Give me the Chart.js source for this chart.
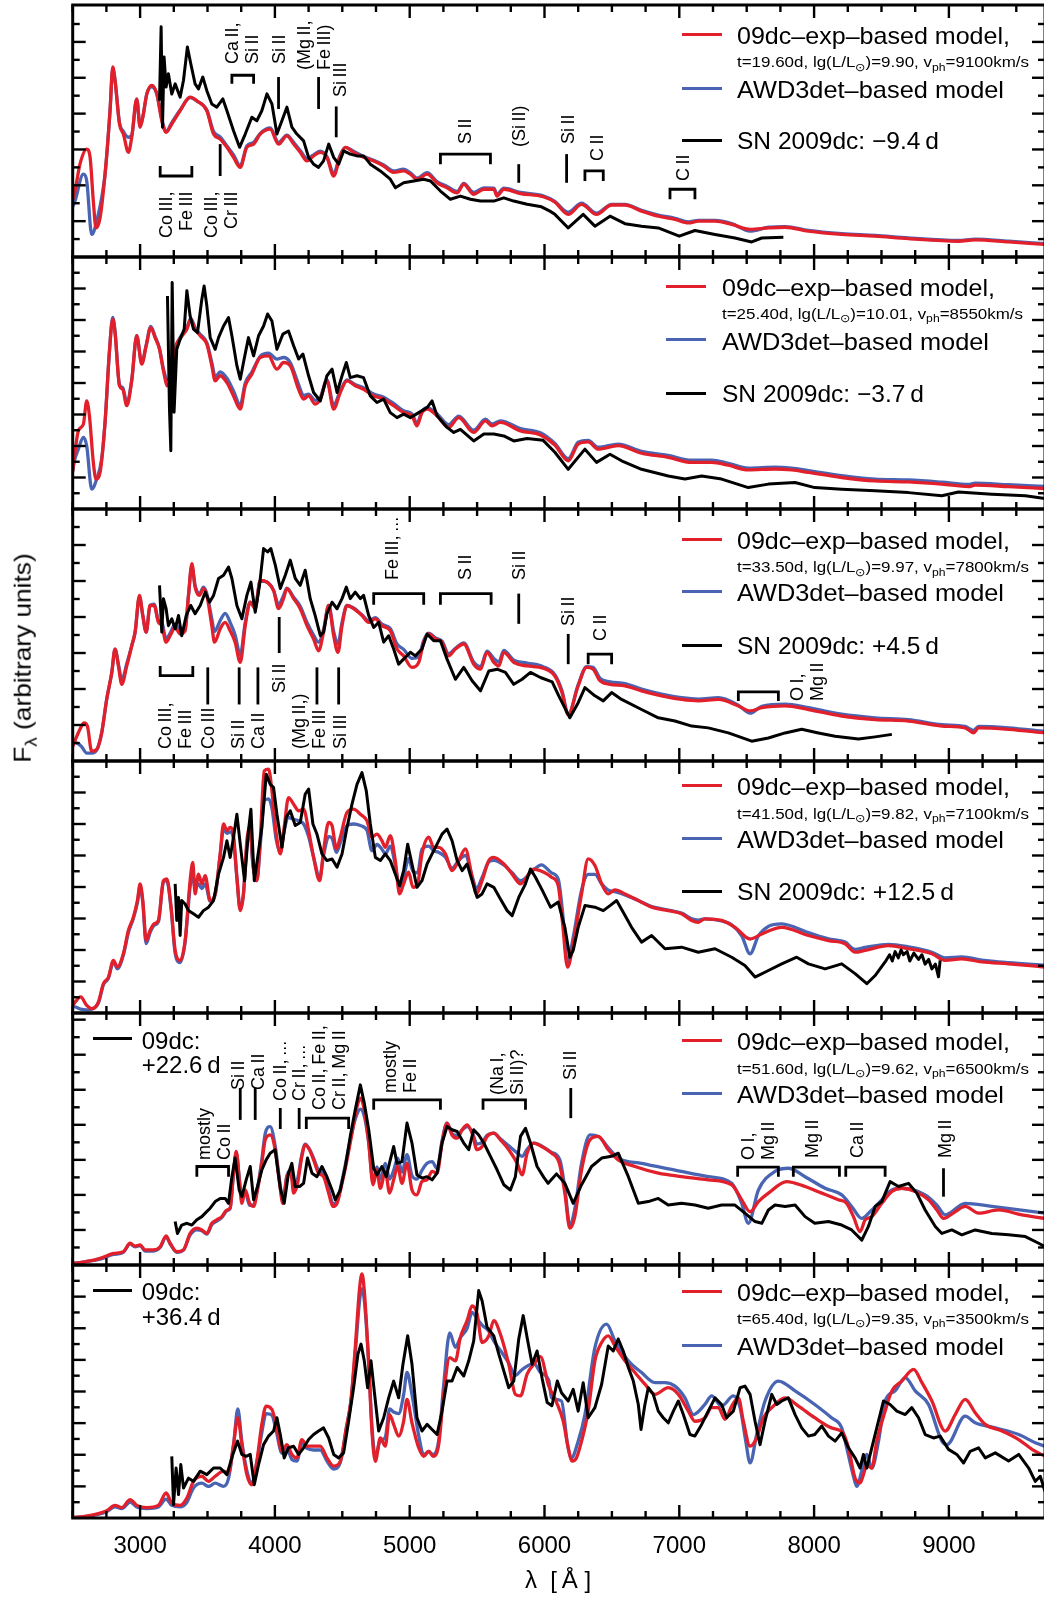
<!DOCTYPE html>
<html>
<head>
<meta charset="utf-8">
<script src="https://cdn.jsdelivr.net/npm/chart.js@4.4.1/dist/chart.umd.min.js"></script>
<style>
html,body{margin:0;padding:0;background:#fff;}
body{width:1044px;height:1597px;position:relative;overflow:hidden;font-family:"Liberation Sans",Arial,Helvetica,sans-serif;color:#000;}
canvas{position:absolute;left:0;}
.t{position:absolute;white-space:nowrap;line-height:1;transform-origin:0 0;}
.sw{position:absolute;height:3px;}
.ann{position:absolute;white-space:nowrap;font-size:18px;line-height:20px;transform-origin:0 0;}
sub{font-size:0.72em;vertical-align:baseline;position:relative;top:0.32em;line-height:0;}
</style>
</head>
<body>
<script>
// ---------------- DATA ----------------
const lambdaMin = 2500, lambdaMax = 9713;
const lambdaTickValues = [3000, 4000, 5000, 6000, 7000, 8000, 9000];
const epochs = ['\u22129.4\u2009d', '\u22123.7\u2009d', '+4.5\u2009d', '+12.5\u2009d', '+22.6\u2009d', '+36.4\u2009d'];
const modelTimes = ['19.60', '25.40', '33.50', '41.50', '51.60', '65.40'];
const modelLgL = ['9.90', '10.01', '9.97', '9.82', '9.62', '9.35'];
const modelVph = ['9100', '8550', '7800', '7100', '6500', '3500'];
const panelYMax = [7.03, 8, 7, 8, 7.19, 8];

const p1Red = [[2500,1.6],[2517,1.84],[2554,2.59],[2604,3.01],[2629,2.78],[2653,1.56],[2673,0.81],[2703,1.09],[2740,2.31],[2777,4.08],[2797,5.30],[2814,4.93],[2847,3.71],[2876,3.43],[2913,2.92],[2938,3.34],[2975,4.41],[3000,3.62],[3020,3.90],[3050,4.55],[3087,4.79],[3124,4.55],[3161,3.80],[3193,3.48],[3235,3.71],[3297,4.08],[3371,4.46],[3421,4.36],[3495,4.08],[3545,3.43],[3594,3.29],[3644,3.06],[3693,2.78],[3743,2.50],[3792,3.06],[3842,3.15],[3891,3.43],[3965,3.57],[4027,3.15],[4089,3.38],[4139,3.15],[4188,2.92],[4238,2.68],[4287,2.82],[4337,2.92],[4386,2.78],[4436,2.26],[4485,2.82],[4523,3.06],[4584,2.92],[4658,2.78],[4733,2.68],[4807,2.54],[4881,2.36],[4955,2.40],[5005,2.31],[5054,2.17],[5129,2.31],[5203,2.07],[5277,1.93],[5352,1.79],[5401,2.03],[5475,1.75],[5550,1.89],[5624,1.89],[5648,1.70],[5698,1.89],[5822,1.77],[5990,1.68],[6077,1.53],[6176,1.19],[6275,1.47],[6386,1.19],[6498,1.45],[6597,1.45],[6720,1.28],[6844,1.14],[6968,1.05],[7067,0.95],[7141,1.00],[7265,1.00],[7389,0.91],[7525,0.77],[7661,0.81],[7785,0.83],[7958,0.72],[8205,0.63],[8453,0.58],[8700,0.51],[9071,0.44],[9195,0.48],[9443,0.42],[9713,0.35]];
const p1Blue = [[2500,1.4],[2517,1.56],[2579,2.31],[2604,2.12],[2641,0.63],[2678,1.0],[2740,2.31],[2777,4.08],[2797,5.25],[2814,4.93],[2847,3.75],[2876,3.5],[2913,3.34],[2938,3.4],[2975,4.4],[3000,3.65],[3020,3.9],[3050,4.55],[3087,4.75],[3124,4.55],[3161,3.85],[3193,3.5],[3235,3.75],[3297,4.1],[3371,4.45],[3421,4.35],[3495,4.1],[3545,3.5],[3594,3.35],[3644,3.1],[3693,2.85],[3743,2.55],[3792,3.1],[3842,3.2],[3891,3.45],[3965,3.6],[4027,3.2],[4089,3.4],[4139,3.2],[4188,2.97],[4238,2.75],[4287,2.85],[4337,2.95],[4386,2.8],[4436,2.35],[4485,2.85],[4523,3.06],[4584,2.95],[4658,2.8],[4733,2.7],[4807,2.57],[4881,2.4],[4955,2.45],[5005,2.35],[5054,2.2],[5129,2.35],[5203,2.1],[5277,1.97],[5352,1.83],[5401,2.05],[5475,1.8],[5550,1.93],[5624,1.92],[5648,1.75],[5698,1.92],[5822,1.8],[5990,1.71],[6077,1.55],[6176,1.25],[6275,1.5],[6386,1.22],[6498,1.47],[6597,1.47],[6720,1.3],[6844,1.17],[6968,1.08],[7067,0.98],[7141,1.02],[7265,1.02],[7389,0.93],[7525,0.72],[7661,0.83],[7785,0.85],[7958,0.74],[8205,0.65],[8453,0.6],[8700,0.53],[9071,0.46],[9195,0.5],[9443,0.44],[9713,0.37]];
const p1Black = [[3144,4.36],[3156,6.42],[3166,3.62],[3178,5.58],[3193,4.74],[3210,5.11],[3235,4.55],[3260,4.83],[3297,4.46],[3322,4.93],[3351,5.86],[3376,5.39],[3408,4.83],[3433,4.69],[3465,5.02],[3495,4.64],[3532,4.27],[3569,4.18],[3614,4.41],[3644,4.08],[3693,3.52],[3738,3.06],[3780,3.43],[3829,3.90],[3866,3.80],[3903,4.08],[3941,4.55],[3978,4.27],[4015,3.43],[4052,3.80],[4089,4.18],[4126,3.62],[4163,3.43],[4213,3.24],[4250,2.78],[4287,2.59],[4324,2.50],[4361,2.68],[4399,3.15],[4436,2.78],[4473,2.59],[4510,2.96],[4559,2.87],[4609,2.82],[4658,2.82],[4708,2.59],[4782,2.40],[4856,2.17],[4894,1.93],[4955,2.07],[5030,2.12],[5104,2.17],[5154,2.12],[5228,1.84],[5302,1.61],[5376,1.70],[5450,1.61],[5525,1.56],[5624,1.56],[5698,1.65],[5772,1.56],[5871,1.47],[5978,1.40],[6040,1.28],[6077,1.19],[6176,0.81],[6287,1.19],[6374,0.86],[6486,1.14],[6597,0.93],[6720,0.86],[6844,0.81],[7000,0.58],[7116,0.74],[7265,0.63],[7413,0.53],[7537,0.42],[7612,0.53],[7772,0.55]];

const p2Red = [[2500,1.2],[2505,1.37],[2542,2.48],[2579,2.69],[2604,3.43],[2624,2.96],[2653,1.48],[2673,0.95],[2703,1.16],[2740,2.75],[2772,4.97],[2797,6.03],[2814,5.60],[2847,3.91],[2871,3.80],[2901,3.28],[2938,4.07],[2975,5.50],[3012,4.60],[3045,5.18],[3079,5.76],[3111,5.44],[3144,5.07],[3173,4.39],[3203,3.91],[3235,4.23],[3260,5.07],[3302,5.44],[3347,5.71],[3376,6.03],[3408,5.71],[3446,5.50],[3495,5.23],[3532,4.55],[3557,4.07],[3594,4.23],[3644,4.01],[3693,3.59],[3743,3.17],[3780,3.91],[3829,4.28],[3891,4.81],[3953,4.86],[4015,4.44],[4064,4.65],[4114,4.55],[4176,3.80],[4213,3.49],[4250,3.59],[4299,3.33],[4337,3.49],[4386,4.07],[4436,3.17],[4485,3.70],[4535,4.07],[4596,3.91],[4658,3.80],[4733,3.59],[4807,3.49],[4881,3.28],[4955,3.06],[5017,2.96],[5054,2.64],[5091,3.06],[5129,3.17],[5203,2.96],[5289,2.59],[5364,2.90],[5475,2.43],[5562,2.80],[5611,2.64],[5673,2.75],[5822,2.48],[5970,2.35],[6077,2.03],[6176,1.53],[6250,2.06],[6324,2.13],[6399,1.90],[6547,2.01],[6720,1.77],[6918,1.64],[7092,1.48],[7240,1.48],[7364,1.39],[7512,1.24],[7710,1.27],[7834,1.24],[7958,1.16],[8205,1.00],[8453,0.89],[8700,0.86],[8948,0.79],[9146,0.71],[9195,0.76],[9443,0.71],[9713,0.65]];
const p2Blue = [[2500,1.2],[2510,1.48],[2542,1.90],[2579,2.27],[2604,2.0],[2641,0.63],[2678,0.95],[2715,1.6],[2740,2.75],[2772,4.97],[2797,6.08],[2814,5.65],[2847,3.95],[2871,3.85],[2901,3.40],[2938,4.10],[2975,5.50],[3012,4.65],[3045,5.20],[3079,5.80],[3111,5.48],[3144,5.10],[3173,4.45],[3203,4.10],[3235,4.30],[3260,5.07],[3302,5.48],[3347,5.75],[3376,6.05],[3408,5.75],[3446,5.55],[3495,5.28],[3532,4.65],[3557,4.20],[3594,4.35],[3644,4.15],[3693,3.75],[3743,3.30],[3780,4.0],[3829,4.35],[3891,4.85],[3953,4.95],[4015,4.76],[4064,4.81],[4114,4.65],[4176,3.95],[4213,3.60],[4250,3.65],[4299,3.45],[4337,3.55],[4386,4.10],[4436,3.30],[4485,3.75],[4535,4.10],[4596,3.95],[4658,3.85],[4733,3.65],[4807,3.55],[4881,3.35],[4955,3.12],[5017,3.02],[5054,2.72],[5091,3.10],[5129,3.22],[5203,3.02],[5289,2.68],[5364,2.95],[5475,2.50],[5562,2.85],[5611,2.70],[5673,2.80],[5822,2.55],[5970,2.42],[6077,2.08],[6176,1.60],[6250,2.12],[6324,2.18],[6399,1.96],[6547,2.06],[6720,1.83],[6918,1.70],[7092,1.55],[7240,1.55],[7364,1.45],[7512,1.30],[7710,1.33],[7834,1.30],[7958,1.22],[8205,1.06],[8453,0.95],[8700,0.92],[8948,0.85],[9146,0.78],[9195,0.82],[9443,0.77],[9713,0.72]];
const p2Black = [[3203,6.76],[3218,3.17],[3228,1.85],[3238,7.19],[3252,3.07],[3272,5.07],[3297,5.39],[3327,5.71],[3347,6.93],[3371,6.13],[3396,5.71],[3426,5.60],[3458,6.66],[3475,7.08],[3495,6.45],[3520,5.44],[3557,5.07],[3582,5.44],[3619,5.81],[3656,6.08],[3681,5.50],[3718,4.55],[3743,4.12],[3772,4.76],[3804,5.44],[3842,4.86],[3879,5.50],[3916,5.81],[3946,6.19],[3978,5.97],[4015,5.07],[4059,5.55],[4101,5.65],[4139,5.18],[4176,4.76],[4208,4.92],[4250,4.23],[4287,3.70],[4337,3.43],[4386,4.23],[4424,4.44],[4461,3.70],[4498,4.23],[4530,4.65],[4559,4.17],[4609,4.23],[4658,4.17],[4708,3.59],[4757,3.38],[4807,3.49],[4856,3.06],[4906,2.90],[4955,3.01],[5005,2.90],[5067,3.06],[5129,3.22],[5166,3.43],[5203,2.96],[5277,2.59],[5327,2.43],[5376,2.53],[5475,2.16],[5550,2.38],[5624,2.38],[5698,2.32],[5772,2.16],[5871,2.24],[5990,2.18],[6077,1.80],[6176,1.26],[6300,1.90],[6386,1.48],[6486,1.74],[6572,1.53],[6720,1.26],[6918,1.05],[7042,0.95],[7166,1.05],[7314,0.95],[7512,0.68],[7661,0.79],[7859,0.84],[8005,0.68],[8205,0.63],[8453,0.58],[8700,0.52],[8948,0.42],[9071,0.54],[9319,0.47],[9567,0.42],[9713,0.33]];

const p3Red = [[2500,0.4],[2510,0.50],[2554,0.88],[2584,1.06],[2609,0.97],[2641,0.27],[2678,0.32],[2715,0.78],[2752,1.71],[2790,2.46],[2814,3.11],[2839,2.64],[2864,2.13],[2901,2.64],[2938,3.20],[2963,3.58],[2995,4.60],[3020,4.04],[3045,3.58],[3074,4.32],[3104,4.32],[3136,3.85],[3161,3.76],[3193,3.30],[3223,3.48],[3260,3.71],[3297,3.53],[3334,3.62],[3359,4.60],[3384,5.48],[3408,4.83],[3441,4.60],[3470,4.79],[3495,4.60],[3532,3.76],[3552,3.30],[3594,3.67],[3631,3.85],[3668,3.62],[3705,3.30],[3743,2.74],[3780,3.76],[3817,4.41],[3854,4.23],[3891,5.02],[3941,4.97],[3990,4.74],[4027,4.23],[4064,4.51],[4089,4.79],[4139,4.51],[4188,4.23],[4238,3.76],[4287,3.39],[4324,3.06],[4361,3.58],[4399,4.32],[4436,3.48],[4468,3.02],[4498,3.76],[4535,4.32],[4584,4.23],[4646,4.04],[4696,3.85],[4745,3.95],[4794,3.76],[4856,3.62],[4906,3.11],[4955,2.92],[5017,2.60],[5067,2.74],[5104,3.30],[5141,3.53],[5191,3.39],[5240,3.30],[5289,2.92],[5339,3.11],[5401,3.25],[5475,2.69],[5525,2.55],[5574,3.02],[5624,2.74],[5661,2.64],[5698,3.02],[5772,2.74],[5871,2.64],[5990,2.58],[6077,2.36],[6130,1.90],[6176,1.29],[6250,2.09],[6312,2.60],[6361,2.55],[6411,2.23],[6486,2.13],[6597,2.09],[6720,1.95],[6869,1.81],[7017,1.71],[7141,1.67],[7290,1.71],[7438,1.53],[7525,1.39],[7612,1.48],[7785,1.53],[7958,1.43],[8205,1.25],[8453,1.15],[8700,1.11],[8948,0.97],[9121,0.92],[9183,0.78],[9220,0.92],[9443,0.88],[9713,0.78]];
const p3Blue = [[2500,0.45],[2505,0.52],[2541,0.48],[2566,0.40],[2604,0.22],[2641,0.22],[2678,0.30],[2715,0.78],[2752,1.71],[2790,2.46],[2814,3.11],[2839,2.70],[2864,2.25],[2901,2.70],[2938,3.20],[2963,3.58],[2995,4.55],[3020,4.04],[3045,3.58],[3074,4.32],[3104,4.36],[3136,3.9],[3161,3.85],[3193,3.40],[3223,3.55],[3260,3.80],[3297,3.62],[3334,3.67],[3359,4.6],[3384,5.4],[3408,4.88],[3441,4.65],[3470,4.83],[3495,4.65],[3532,3.95],[3552,3.6],[3594,3.9],[3631,4.1],[3668,3.85],[3705,3.5],[3743,2.95],[3780,3.85],[3817,4.41],[3854,4.3],[3891,5.0],[3941,4.97],[3990,4.74],[4027,4.35],[4064,4.6],[4089,4.8],[4139,4.55],[4188,4.3],[4238,3.85],[4287,3.5],[4324,3.3],[4361,3.65],[4399,4.32],[4436,3.6],[4468,3.25],[4498,3.85],[4535,4.32],[4584,4.25],[4646,4.06],[4696,3.9],[4745,3.98],[4794,3.8],[4856,3.68],[4906,3.25],[4955,3.1],[5017,2.85],[5067,2.9],[5104,3.35],[5141,3.55],[5191,3.42],[5240,3.33],[5289,2.98],[5339,3.13],[5401,3.28],[5475,2.75],[5525,2.62],[5574,3.05],[5624,2.85],[5661,2.75],[5698,3.07],[5772,2.80],[5871,2.72],[5990,2.62],[6077,2.40],[6130,1.95],[6176,1.29],[6250,2.12],[6312,2.62],[6361,2.6],[6411,2.3],[6486,2.2],[6597,2.15],[6720,2.0],[6869,1.86],[7017,1.76],[7141,1.72],[7290,1.76],[7438,1.55],[7525,1.33],[7612,1.52],[7785,1.58],[7958,1.48],[8205,1.30],[8453,1.20],[8700,1.15],[8948,1.01],[9121,0.96],[9183,0.85],[9220,0.96],[9443,0.92],[9713,0.82]];
const p3Black = [[3144,4.88],[3161,3.58],[3173,4.51],[3193,4.23],[3210,3.76],[3235,3.95],[3260,3.67],[3285,4.04],[3309,3.48],[3342,4.04],[3376,4.32],[3408,4.09],[3446,4.32],[3483,4.69],[3515,4.41],[3545,4.60],[3582,5.07],[3619,5.16],[3656,5.39],[3681,5.07],[3718,4.32],[3755,3.95],[3792,4.60],[3822,4.97],[3854,4.13],[3886,4.88],[3916,5.90],[3946,5.81],[3970,5.90],[4003,5.44],[4040,4.79],[4077,5.16],[4114,5.58],[4151,5.07],[4188,4.88],[4225,5.30],[4262,4.51],[4299,4.04],[4337,3.48],[4361,3.58],[4386,4.09],[4424,4.41],[4461,4.23],[4498,4.51],[4530,4.83],[4559,4.51],[4596,4.69],[4634,4.51],[4658,4.60],[4696,4.04],[4733,3.71],[4770,3.85],[4807,3.30],[4844,3.48],[4881,3.11],[4918,2.69],[4955,2.83],[5005,3.02],[5042,2.92],[5091,3.11],[5129,3.53],[5178,3.34],[5228,3.34],[5277,2.83],[5339,2.27],[5401,2.60],[5463,2.23],[5525,1.95],[5587,2.50],[5649,2.55],[5710,2.46],[5772,2.13],[5834,2.27],[5896,2.46],[5970,2.32],[6057,2.20],[6106,1.81],[6188,1.20],[6250,1.62],[6300,2.04],[6374,1.81],[6436,1.67],[6498,1.90],[6572,1.71],[6720,1.43],[6844,1.20],[6968,1.11],[7092,0.97],[7215,0.92],[7364,0.78],[7537,0.55],[7661,0.64],[7785,0.78],[7908,0.88],[8032,0.78],[8156,0.69],[8329,0.61],[8453,0.67],[8577,0.74]];

const p4Red = [[2500,0.25],[2510,0.30],[2559,0.51],[2604,0.24],[2641,0.14],[2691,0.35],[2728,0.93],[2765,1.14],[2802,1.67],[2832,1.46],[2876,1.88],[2913,2.62],[2950,3.04],[2980,3.57],[3000,4.10],[3020,3.57],[3045,2.30],[3074,2.62],[3104,2.83],[3136,2.94],[3173,4.20],[3198,4.26],[3230,3.36],[3260,1.99],[3297,1.67],[3334,2.30],[3371,4.20],[3391,4.78],[3408,3.78],[3433,4.41],[3458,4.10],[3483,4.36],[3520,3.57],[3557,3.78],[3594,5.05],[3619,6.00],[3644,5.79],[3668,5.89],[3693,5.63],[3718,4.31],[3743,3.25],[3767,3.78],[3792,5.47],[3817,5.95],[3837,4.73],[3866,4.20],[3891,5.47],[3921,7.69],[3953,7.74],[3978,7.05],[4010,5.68],[4040,5.05],[4069,5.89],[4101,6.84],[4139,6.63],[4176,6.42],[4213,6.47],[4250,5.79],[4287,4.94],[4332,4.20],[4361,5.15],[4399,6.05],[4424,5.95],[4456,5.21],[4485,5.58],[4535,6.37],[4584,6.47],[4634,6.31],[4683,6.10],[4720,5.58],[4757,5.68],[4794,5.47],[4819,5.26],[4856,5.63],[4893,4.84],[4925,3.78],[4955,4.10],[4992,4.47],[5024,3.99],[5059,4.10],[5091,5.05],[5141,5.58],[5178,5.26],[5215,5.26],[5265,5.05],[5314,4.52],[5364,4.84],[5413,5.21],[5463,4.31],[5495,3.78],[5537,4.20],[5587,4.84],[5624,4.94],[5698,4.73],[5760,4.41],[5822,4.10],[5921,4.57],[5978,4.50],[6020,4.41],[6052,4.31],[6102,4.04],[6132,2.94],[6171,1.46],[6213,2.20],[6275,3.78],[6324,4.89],[6374,4.68],[6424,4.10],[6473,3.78],[6523,3.91],[6597,3.78],[6696,3.57],[6795,3.36],[6918,3.25],[7017,3.15],[7092,2.94],[7141,2.88],[7190,2.99],[7314,2.94],[7413,2.72],[7525,2.35],[7612,2.51],[7760,2.72],[7958,2.46],[8107,2.30],[8230,2.20],[8304,1.93],[8379,1.99],[8552,2.14],[8700,2.04],[8874,1.88],[8973,1.67],[9096,1.72],[9245,1.62],[9443,1.56],[9713,1.46]];
const p4Blue = [[2500,0.2],[2510,0.2],[2559,0.12],[2604,0.10],[2641,0.12],[2691,0.32],[2728,0.9],[2765,1.1],[2802,1.62],[2832,1.40],[2876,1.85],[2913,2.55],[2950,3.0],[2980,3.5],[3000,4.0],[3020,3.5],[3045,2.2],[3074,2.55],[3104,2.78],[3136,2.9],[3173,4.15],[3198,4.2],[3230,3.3],[3260,1.9],[3297,1.6],[3334,2.25],[3371,4.0],[3391,4.4],[3408,3.95],[3433,4.1],[3458,3.95],[3483,4.1],[3520,3.55],[3557,3.75],[3594,5.0],[3619,5.85],[3644,5.7],[3668,5.75],[3693,5.5],[3718,4.3],[3743,3.3],[3767,3.8],[3792,5.3],[3817,5.7],[3837,4.7],[3866,4.2],[3891,5.3],[3921,6.74],[3953,6.8],[3978,6.5],[4010,5.5],[4040,5.1],[4069,5.8],[4101,6.2],[4139,6.15],[4176,6.1],[4213,6.0],[4250,5.6],[4287,4.95],[4332,4.3],[4361,5.0],[4399,5.6],[4424,5.55],[4456,5.1],[4485,5.4],[4535,5.95],[4584,6.0],[4634,5.95],[4683,5.8],[4720,5.15],[4757,5.35],[4794,5.2],[4819,5.05],[4856,5.3],[4893,4.7],[4925,4.0],[4955,4.3],[4992,4.9],[5024,4.5],[5059,4.45],[5091,5.2],[5141,5.3],[5178,5.15],[5215,5.1],[5265,4.95],[5314,4.6],[5364,4.85],[5413,5.0],[5463,4.35],[5495,3.95],[5537,4.3],[5587,4.8],[5624,4.85],[5698,4.7],[5760,4.45],[5822,4.2],[5921,4.55],[5978,4.70],[6052,4.45],[6102,4.25],[6132,3.3],[6171,1.6],[6213,2.4],[6275,3.9],[6324,4.4],[6374,4.4],[6424,4.1],[6473,3.9],[6523,3.85],[6597,3.75],[6696,3.57],[6795,3.38],[6918,3.27],[7017,3.17],[7092,2.99],[7141,2.95],[7190,2.99],[7314,2.92],[7389,2.80],[7463,2.45],[7525,1.88],[7587,2.45],[7661,2.75],[7760,2.83],[7858,2.72],[7958,2.55],[8107,2.35],[8230,2.25],[8304,2.02],[8379,2.08],[8552,2.18],[8700,2.1],[8874,1.93],[8973,1.75],[9096,1.78],[9245,1.68],[9443,1.60],[9713,1.52]];
const p4Black = [[3260,4.10],[3272,2.94],[3285,3.67],[3297,2.46],[3309,3.57],[3334,3.46],[3359,3.25],[3396,3.15],[3433,3.04],[3470,3.25],[3508,3.36],[3545,3.57],[3582,4.41],[3619,4.94],[3644,5.47],[3668,4.94],[3693,5.58],[3718,6.31],[3743,5.36],[3775,4.20],[3804,5.79],[3822,6.47],[3847,4.20],[3879,5.15],[3903,5.89],[3936,7.58],[3965,7.26],[3990,7.16],[4015,6.31],[4052,5.26],[4084,6.21],[4114,6.42],[4151,5.95],[4188,6.05],[4225,6.95],[4250,7.11],[4282,6.00],[4312,5.68],[4349,5.05],[4386,4.84],[4424,4.89],[4461,4.63],[4498,5.05],[4535,5.89],[4572,6.63],[4609,7.26],[4646,7.63],[4678,7.05],[4708,6.00],[4745,4.94],[4782,4.84],[4819,5.05],[4856,4.84],[4893,4.41],[4925,4.04],[4955,4.52],[4985,5.36],[5017,4.73],[5054,3.99],[5091,4.20],[5129,4.73],[5166,5.05],[5203,5.36],[5240,5.68],[5277,5.84],[5314,5.47],[5352,4.84],[5389,4.52],[5426,4.73],[5463,4.20],[5500,3.67],[5537,3.78],[5574,4.10],[5624,3.99],[5673,3.62],[5723,3.25],[5760,3.09],[5809,3.67],[5859,4.10],[5896,4.57],[5933,4.31],[5983,3.90],[6045,3.36],[6102,3.52],[6151,2.72],[6188,1.77],[6213,1.99],[6250,2.72],[6300,3.41],[6374,3.36],[6436,3.25],[6486,3.41],[6535,3.57],[6584,3.20],[6646,2.72],[6720,2.25],[6795,2.46],[6894,2.04],[7017,2.09],[7141,1.93],[7265,2.04],[7389,1.77],[7487,1.51],[7562,1.14],[7661,1.35],[7760,1.56],[7871,1.77],[7958,1.56],[8082,1.40],[8205,1.56],[8304,1.25],[8391,0.93],[8453,1.19],[8527,1.62],[8560,1.85],[8580,1.65],[8601,1.95],[8625,1.75],[8645,2.0],[8663,1.85],[8690,1.95],[8710,1.65],[8740,1.9],[8775,1.7],[8800,1.85],[8824,1.55],[8850,1.7],[8874,1.4],[8900,1.55],[8923,1.15],[8935,1.67]];

const p5Red = [[2500,0.05],[2510,0.05],[2604,0.10],[2703,0.19],[2802,0.33],[2876,0.38],[2926,0.62],[2963,0.54],[3000,0.57],[3037,0.43],[3099,0.43],[3149,0.52],[3193,0.83],[3223,0.62],[3272,0.38],[3322,0.43],[3371,0.90],[3421,1.05],[3458,1.00],[3495,0.90],[3532,1.19],[3569,1.29],[3606,1.38],[3644,1.57],[3668,1.62],[3693,2.62],[3713,3.24],[3738,2.33],[3755,1.76],[3780,2.14],[3812,1.76],[3842,1.67],[3871,2.14],[3903,2.90],[3928,3.57],[3965,3.71],[4002,3.29],[4035,2.33],[4059,1.76],[4089,2.52],[4119,2.62],[4139,2.05],[4168,2.33],[4200,3.10],[4225,3.43],[4257,3.29],[4287,3.00],[4324,2.62],[4361,2.52],[4399,2.05],[4431,1.67],[4461,1.76],[4498,2.33],[4535,3.00],[4572,3.76],[4604,4.43],[4634,4.76],[4663,4.43],[4696,3.48],[4728,2.29],[4757,2.71],[4782,2.19],[4819,2.67],[4851,2.05],[4881,2.43],[4911,2.81],[4943,2.33],[4980,2.90],[5017,2.14],[5054,2.00],[5091,2.38],[5129,2.43],[5166,2.67],[5203,2.62],[5240,3.48],[5277,4.05],[5314,3.71],[5352,3.62],[5389,3.86],[5426,4.00],[5463,3.76],[5500,3.29],[5537,3.38],[5574,3.67],[5624,3.76],[5673,3.57],[5735,3.29],[5797,2.90],[5834,2.57],[5871,3.19],[5921,3.48],[5970,3.40],[6050,3.20],[6110,2.90],[6151,2.05],[6188,1.05],[6225,1.38],[6275,2.71],[6337,3.57],[6399,3.67],[6473,3.29],[6547,3.00],[6671,2.81],[6844,2.62],[7017,2.52],[7215,2.43],[7389,2.29],[7463,1.86],[7525,1.52],[7587,1.81],[7661,2.05],[7797,2.38],[7933,2.24],[8057,2.05],[8180,1.86],[8242,1.76],[8292,1.38],[8341,0.95],[8379,1.29],[8428,1.38],[8502,1.76],[8577,2.10],[8651,2.19],[8750,2.10],[8849,1.86],[8911,1.57],[8960,1.33],[9047,1.52],[9121,1.67],[9220,1.48],[9369,1.57],[9542,1.43],[9713,1.33]];
const p5Blue = [[2500,0.05],[2510,0.05],[2604,0.10],[2703,0.17],[2802,0.30],[2876,0.36],[2926,0.60],[2963,0.52],[3000,0.55],[3037,0.40],[3099,0.40],[3149,0.50],[3193,0.80],[3223,0.60],[3272,0.36],[3322,0.43],[3371,0.85],[3421,1.0],[3458,0.98],[3495,0.88],[3532,1.15],[3569,1.25],[3606,1.35],[3644,1.55],[3668,1.62],[3693,2.62],[3713,3.20],[3738,2.40],[3755,1.85],[3780,2.10],[3812,1.70],[3842,1.72],[3871,2.20],[3903,3.0],[3928,3.75],[3965,3.95],[4002,3.40],[4035,2.40],[4059,1.85],[4089,2.55],[4119,2.70],[4139,2.20],[4168,2.45],[4200,3.15],[4225,3.45],[4257,3.30],[4287,3.05],[4324,2.70],[4361,2.60],[4399,2.15],[4431,1.75],[4461,1.82],[4498,2.40],[4535,3.10],[4572,3.80],[4604,4.25],[4634,4.45],[4663,4.25],[4696,3.50],[4728,2.40],[4757,2.80],[4782,2.45],[4819,2.90],[4851,2.45],[4881,2.70],[4911,3.05],[4943,2.65],[4980,3.15],[5017,2.55],[5054,2.45],[5091,2.70],[5129,2.90],[5166,2.95],[5203,2.75],[5240,3.55],[5277,4.05],[5314,3.75],[5352,3.70],[5389,3.85],[5426,3.95],[5463,3.80],[5500,3.45],[5537,3.50],[5574,3.70],[5624,3.76],[5673,3.60],[5735,3.40],[5797,3.20],[5834,3.10],[5871,3.30],[5921,3.48],[5970,3.42],[6050,3.22],[6114,3.0],[6151,2.2],[6188,1.14],[6225,1.6],[6275,2.90],[6337,3.71],[6399,3.67],[6473,3.35],[6547,3.05],[6720,2.90],[6968,2.71],[7215,2.52],[7389,2.33],[7463,1.76],[7512,1.19],[7587,2.14],[7710,2.67],[7809,2.76],[7933,2.52],[8082,2.19],[8205,2.00],[8279,1.67],[8354,1.33],[8415,1.52],[8502,1.86],[8577,2.14],[8651,2.19],[8824,2.00],[8911,1.71],[8973,1.43],[9121,1.76],[9319,1.67],[9713,1.48]];
const p5Black = [[3260,1.24],[3277,0.90],[3309,1.14],[3347,1.19],[3384,1.14],[3421,1.29],[3458,1.38],[3483,1.48],[3520,1.62],[3557,1.81],[3594,1.90],[3631,1.90],[3656,1.76],[3681,2.52],[3705,3.05],[3735,2.14],[3755,1.95],[3787,2.43],[3817,2.81],[3842,1.86],[3871,2.24],[3903,2.71],[3935,3.00],[3965,3.19],[4002,3.29],[4040,2.19],[4069,1.76],[4101,2.62],[4126,2.90],[4151,2.24],[4183,2.24],[4213,2.33],[4242,3.05],[4275,2.62],[4312,2.52],[4349,2.81],[4386,2.52],[4424,2.14],[4448,1.86],[4485,2.14],[4523,2.81],[4559,3.67],[4596,4.43],[4634,5.14],[4663,4.62],[4696,3.86],[4733,2.76],[4757,2.57],[4794,2.81],[4826,2.52],[4856,3.00],[4881,3.38],[4906,2.90],[4943,2.95],[4980,4.05],[5017,3.48],[5054,2.57],[5091,2.48],[5129,2.52],[5166,2.43],[5203,2.62],[5240,3.48],[5277,3.95],[5314,3.86],[5352,3.81],[5401,3.48],[5438,3.29],[5475,3.86],[5512,3.71],[5550,3.48],[5599,3.10],[5649,2.71],[5698,2.29],[5747,2.14],[5784,2.52],[5822,3.67],[5859,3.90],[5896,3.48],[5945,2.81],[5995,2.50],[6027,2.33],[6089,2.60],[6151,2.33],[6213,1.76],[6275,2.29],[6349,2.81],[6424,3.05],[6498,3.10],[6547,3.19],[6622,2.52],[6696,1.76],[6770,1.81],[6844,1.90],[6918,1.71],[7017,1.76],[7116,1.71],[7215,1.62],[7314,1.71],[7413,1.71],[7487,1.48],[7562,1.24],[7612,1.19],[7661,1.57],[7710,1.71],[7785,1.67],[7859,1.71],[7933,1.38],[8005,1.19],[8107,1.24],[8205,1.14],[8279,1.00],[8354,0.71],[8403,1.10],[8453,1.67],[8502,1.81],[8564,2.38],[8626,2.24],[8700,2.33],[8762,2.05],[8824,1.57],[8899,1.10],[8948,0.90],[9022,1.00],[9096,0.86],[9195,1.00],[9319,0.90],[9443,0.86],[9567,0.81],[9666,0.62],[9713,0.52]];

const p6Red = [[2500,0.02],[2510,0.02],[2653,0.10],[2752,0.23],[2814,0.40],[2864,0.33],[2926,0.58],[2975,0.40],[3050,0.33],[3136,0.40],[3193,0.79],[3235,0.47],[3297,0.40],[3347,0.63],[3396,1.16],[3458,1.32],[3508,1.16],[3557,1.32],[3619,1.48],[3656,1.42],[3693,2.32],[3725,3.17],[3755,2.32],[3792,1.37],[3829,1.05],[3866,1.79],[3903,2.96],[3935,3.54],[3978,3.43],[4010,2.96],[4052,2.11],[4089,2.32],[4126,2.01],[4163,1.90],[4200,2.48],[4238,2.27],[4287,2.27],[4337,2.27],[4386,1.90],[4436,1.64],[4485,1.79],[4530,2.85],[4564,3.70],[4596,5.39],[4629,7.30],[4646,7.72],[4663,7.20],[4696,4.86],[4720,2.75],[4745,1.79],[4782,2.53],[4819,2.27],[4851,3.27],[4881,2.96],[4918,2.59],[4955,3.06],[4980,3.75],[5017,3.01],[5067,2.22],[5104,1.95],[5141,2.11],[5173,1.95],[5215,2.32],[5252,3.91],[5297,5.07],[5339,4.97],[5376,5.71],[5426,6.24],[5463,6.71],[5500,6.45],[5537,5.55],[5587,5.76],[5624,6.24],[5673,5.81],[5735,4.86],[5784,3.91],[5822,3.86],[5871,4.55],[5921,4.86],[5970,5.10],[6030,4.20],[6090,3.65],[6139,3.06],[6176,2.22],[6205,1.80],[6237,1.90],[6275,2.43],[6324,3.38],[6374,4.97],[6424,5.55],[6473,5.76],[6523,5.44],[6597,4.97],[6671,4.60],[6745,4.23],[6820,3.91],[6918,4.12],[6993,3.91],[7067,3.38],[7116,3.06],[7190,3.17],[7240,3.49],[7290,3.49],[7339,3.12],[7389,3.54],[7438,3.80],[7475,3.06],[7525,2.27],[7574,2.53],[7624,3.17],[7686,3.49],[7785,3.80],[7884,3.54],[8005,3.17],[8129,2.85],[8215,2.69],[8255,2.22],[8304,1.26],[8341,1.11],[8366,1.37],[8391,1.69],[8428,1.58],[8465,2.43],[8527,3.38],[8577,4.02],[8651,4.33],[8738,4.70],[8800,4.28],[8874,3.70],[8973,2.75],[9047,3.27],[9121,3.75],[9195,3.33],[9270,2.96],[9394,2.75],[9518,2.48],[9617,2.17],[9713,1.95]];
const p6Blue = [[2500,0.02],[2510,0.02],[2653,0.08],[2752,0.2],[2814,0.35],[2864,0.30],[2926,0.50],[2975,0.35],[3050,0.30],[3136,0.35],[3193,0.60],[3235,0.40],[3297,0.35],[3347,0.50],[3396,0.95],[3458,1.10],[3508,1.0],[3557,1.10],[3619,1.0],[3656,1.25],[3693,2.3],[3725,3.45],[3755,2.4],[3792,1.5],[3829,1.1],[3866,1.75],[3903,2.7],[3935,3.3],[3978,3.25],[4010,2.75],[4052,2.05],[4089,2.2],[4126,1.85],[4163,1.80],[4200,2.35],[4238,2.2],[4287,2.15],[4337,2.15],[4386,1.80],[4436,1.55],[4485,1.75],[4530,2.85],[4564,3.70],[4596,5.2],[4629,6.9],[4646,7.25],[4663,6.9],[4696,4.9],[4720,2.9],[4745,1.95],[4782,2.45],[4819,2.55],[4851,3.45],[4881,3.35],[4918,3.3],[4955,3.9],[4980,4.6],[5017,3.9],[5067,2.6],[5104,2.0],[5141,2.1],[5173,2.0],[5215,2.45],[5252,4.2],[5297,5.85],[5339,5.4],[5376,5.7],[5426,6.0],[5463,6.5],[5500,6.3],[5537,6.1],[5587,5.9],[5624,5.6],[5673,5.3],[5735,4.9],[5784,4.5],[5822,4.65],[5871,4.8],[5921,4.9],[5970,4.6],[6032,4.35],[6052,3.80],[6126,3.70],[6171,2.32],[6200,1.90],[6250,2.43],[6300,3.27],[6374,5.39],[6461,6.13],[6523,5.60],[6622,4.97],[6720,4.60],[6820,4.28],[6894,4.28],[6968,4.17],[7042,3.80],[7104,3.27],[7190,3.59],[7240,3.86],[7314,3.54],[7401,3.86],[7451,3.49],[7493,2.43],[7525,1.74],[7574,2.64],[7636,3.70],[7735,4.33],[7859,4.02],[8005,3.59],[8129,3.17],[8205,2.85],[8242,2.22],[8292,1.32],[8316,1.00],[8359,1.58],[8391,2.01],[8428,1.58],[8478,2.43],[8527,3.70],[8601,4.02],[8676,4.44],[8750,4.02],[8849,3.59],[8948,2.43],[8985,2.32],[9121,3.22],[9195,3.01],[9344,2.85],[9518,2.64],[9641,2.38],[9713,2.27]];
const p6Black = [[3235,1.95],[3248,0.42],[3267,1.58],[3285,0.74],[3302,1.69],[3322,0.95],[3359,1.26],[3396,1.16],[3446,1.48],[3495,1.37],[3545,1.58],[3594,1.58],[3644,1.37],[3688,2.01],[3723,2.43],[3755,2.01],[3787,1.95],[3817,2.01],[3847,1.05],[3879,1.69],[3916,2.32],[3953,2.59],[3990,2.75],[4015,3.17],[4040,2.64],[4069,1.90],[4101,2.22],[4139,2.27],[4176,2.01],[4213,2.22],[4250,2.48],[4287,2.64],[4324,2.75],[4361,2.85],[4399,2.53],[4436,2.01],[4473,1.90],[4510,2.06],[4547,3.06],[4584,4.12],[4616,5.18],[4639,5.50],[4663,4.97],[4688,4.12],[4713,4.97],[4737,4.02],[4770,2.75],[4807,3.17],[4844,3.80],[4881,4.33],[4918,3.80],[4950,4.86],[4985,5.76],[5017,4.86],[5054,3.17],[5091,2.75],[5129,2.96],[5166,2.80],[5203,2.64],[5240,3.38],[5277,4.33],[5314,4.33],[5352,4.76],[5401,4.49],[5438,4.97],[5475,5.60],[5512,7.19],[5537,6.87],[5574,6.03],[5624,5.76],[5661,5.18],[5698,4.65],[5735,4.12],[5772,4.33],[5809,5.66],[5842,6.40],[5871,5.71],[5908,4.86],[5945,5.28],[5983,4.40],[6020,3.65],[6055,3.55],[6095,4.33],[6126,3.96],[6176,3.70],[6213,4.07],[6250,3.38],[6287,4.28],[6324,3.17],[6374,3.49],[6424,4.23],[6473,5.44],[6510,5.28],[6547,5.66],[6584,5.28],[6622,4.76],[6659,4.33],[6696,3.59],[6716,2.80],[6745,3.59],[6770,4.12],[6807,3.91],[6844,3.38],[6881,3.17],[6918,3.01],[6956,3.38],[6993,3.70],[7030,3.27],[7079,2.64],[7116,2.59],[7166,2.96],[7215,3.38],[7265,3.80],[7314,3.59],[7351,3.17],[7401,3.38],[7451,4.12],[7487,4.17],[7525,3.91],[7562,3.06],[7599,2.32],[7636,3.06],[7686,3.91],[7723,3.59],[7760,3.70],[7809,3.80],[7859,3.27],[7908,2.85],[7958,2.59],[8005,2.64],[8057,2.91],[8107,2.59],[8156,2.43],[8205,2.69],[8255,2.22],[8304,1.90],[8341,1.58],[8366,2.01],[8391,1.58],[8428,2.22],[8465,2.85],[8515,3.70],[8564,3.59],[8614,3.38],[8676,3.27],[8725,3.49],[8775,3.17],[8824,2.64],[8886,2.53],[8935,2.59],[8997,2.17],[9059,2.01],[9109,1.74],[9158,2.11],[9220,2.22],[9270,1.90],[9344,2.06],[9443,1.80],[9518,2.01],[9592,1.58],[9641,1.16],[9678,1.32],[9713,0.84]];

// line identifications (data coordinates: wavelength, flux units)
const p1Marks = [
 {k:'br', x1:3149, x2:3384, y:2.26, ye:2.54},
 {k:'vl', x:3594, y1:2.26, y2:3.15},
 {k:'br', x1:3681, x2:3842, y:5.07, ye:4.83},
 {k:'vl', x:4027, y1:4.13, y2:5.02},
 {k:'vl', x:4324, y1:4.13, y2:5.02},
 {k:'vl', x:4455, y1:3.34, y2:4.2},
 {k:'br', x1:5228, x2:5599, y:2.87, ye:2.59},
 {k:'vl', x:5809, y1:2.07, y2:2.59},
 {k:'vl', x:6164, y1:2.07, y2:2.87},
 {k:'br', x1:6300, x2:6436, y:2.40, ye:2.12},
 {k:'br', x1:6931, x2:7116, y:1.89, ye:1.61}
];
const p1Labels = [
 {x:3267, y:1.84, lines:['Co\u2009III,','Fe\u2009III'], align:'end'},
 {x:3599, y:1.84, lines:['Co\u2009III,','Cr\u2009III'], align:'end'},
 {x:3755, y:5.39, lines:['Ca\u2009II,','Si\u2009II'], align:'start'},
 {x:4032, y:5.39, lines:['Si\u2009II'], align:'start'},
 {x:4287, y:5.21, lines:['(Mg\u2009II,','Fe\u2009III)'], align:'start'},
 {x:4480, y:4.46, lines:['Si\u2009III'], align:'start'},
 {x:5413, y:3.15, lines:['S\u2009II'], align:'start'},
 {x:5809, y:3.06, lines:['(Si\u2009II)'], align:'start'},
 {x:6171, y:3.15, lines:['Si\u2009II'], align:'start'},
 {x:6386, y:2.68, lines:['C\u2009II'], align:'start'},
 {x:7030, y:2.12, lines:['C\u2009II'], align:'start'}
];
const p3Marks = [
 {k:'br', x1:3149, x2:3391, y:2.37, ye:2.64},
 {k:'vl', x:3502, y1:1.57, y2:2.60},
 {k:'vl', x:3735, y1:1.57, y2:2.60},
 {k:'vl', x:3874, y1:1.57, y2:2.60},
 {k:'vl', x:4032, y1:3.0, y2:4.0},
 {k:'vl', x:4312, y1:1.57, y2:2.60},
 {k:'vl', x:4473, y1:1.57, y2:2.60},
 {k:'br', x1:4733, x2:5104, y:4.65, ye:4.34},
 {k:'br', x1:5228, x2:5604, y:4.65, ye:4.34},
 {k:'vl', x:5809, y1:3.81, y2:4.65},
 {k:'vl', x:6176, y1:2.69, y2:3.53},
 {k:'br', x1:6324, x2:6498, y:2.97, ye:2.69},
 {k:'br', x1:7438, x2:7735, y:1.92, ye:1.67}
];
const p3Labels = [
 {x:3260, y:0.32, lines:['Co\u2009III,','Fe\u2009III'], align:'start'},
 {x:3502, y:0.32, lines:['Co\u2009III'], align:'start'},
 {x:3725, y:0.32, lines:['Si\u2009II'], align:'start'},
 {x:3874, y:0.32, lines:['Ca\u2009II'], align:'start'},
 {x:4032, y:1.90, lines:['Si\u2009II'], align:'start'},
 {x:4250, y:0.32, lines:['(Mg\u2009II,)','Fe\u2009III'], align:'start'},
 {x:4480, y:0.32, lines:['Si\u2009III'], align:'start'},
 {x:4869, y:5.02, lines:['Fe\u2009III,\u2009...'], align:'start'},
 {x:5413, y:5.02, lines:['S\u2009II'], align:'start'},
 {x:5809, y:5.02, lines:['Si\u2009II'], align:'start'},
 {x:6171, y:3.76, lines:['Si\u2009II'], align:'start'},
 {x:6411, y:3.34, lines:['C\u2009II'], align:'start'},
 {x:7950, y:1.67, lines:['O\u2009I,','Mg\u2009II'], align:'start'}
];
const p5Marks = [
 {k:'br', x1:3421, x2:3656, y:2.81, ye:2.52},
 {k:'vl', x:3743, y1:4.14, y2:5.05},
 {k:'vl', x:3854, y1:4.14, y2:5.05},
 {k:'vl', x:4040, y1:3.88, y2:4.48},
 {k:'vl', x:4180, y1:3.88, y2:4.48},
 {k:'br', x1:4233, x2:4547, y:4.19, ye:3.88},
 {k:'br', x1:4733, x2:5228, y:4.71, ye:4.43},
 {k:'br', x1:5544, x2:5859, y:4.71, ye:4.43},
 {k:'vl', x:6195, y1:4.19, y2:5.05},
 {k:'br', x1:7433, x2:7735, y:2.79, ye:2.52},
 {k:'br', x1:7846, x2:8188, y:2.79, ye:2.52},
 {k:'br', x1:8235, x2:8527, y:2.79, ye:2.52},
 {k:'vl', x:8960, y1:1.95, y2:2.76}
];
const p5Labels = [
 {x:3545, y:3.0, lines:['mostly','Co\u2009II'], align:'start'},
 {x:3800, y:4.98, lines:['Si\u2009II','Ca\u2009II'], align:'start'},
 {x:4040, y:4.67, lines:['Co\u2009II,\u2009...'], align:'start'},
 {x:4180, y:4.67, lines:['Cr\u2009II,\u2009...'], align:'start'},
 {x:4403, y:4.43, lines:['Co\u2009II,\u2009Fe\u2009II,','Cr\u2009II,\u2009Mg\u2009II'], align:'start'},
 {x:4931, y:4.90, lines:['mostly','Fe\u2009II'], align:'start'},
 {x:5723, y:4.86, lines:['(Na\u2009I,','Si\u2009II)?'], align:'start'},
 {x:6188, y:5.29, lines:['Si\u2009II'], align:'start'},
 {x:7587, y:3.0, lines:['O\u2009I,','Mg\u2009II'], align:'start'},
 {x:7983, y:3.05, lines:['Mg\u2009II'], align:'start'},
 {x:8317, y:3.05, lines:['Ca\u2009II'], align:'start'},
 {x:8973, y:3.05, lines:['Mg\u2009II'], align:'start'}
];

// ---------------- STYLE / LAYOUT ----------------
const RED = '#e1202b', BLUE = '#4a64b4', BLACK = '#000000';
const layout = {tops:[5,257,509,761,1013,1265], bottom:1518, left:72.7, right:1045, canvasW:1050};
const legendPos = [
 {sw:681.7, tx:736.7, red:34.3, small:61.7, blue:88.3, black:140.5, smallW:292},
 {sw:666, tx:721.7, red:286.5, small:313.3, blue:339.8, black:393.3, smallW:301},
 {sw:681.7, tx:736.7, red:539.3, small:566.7, blue:591.7, black:645, smallW:292},
 {sw:681.7, tx:736.7, red:785.7, small:813, blue:838.3, black:891.5, smallW:292},
 {sw:681.7, tx:736.7, red:1040, small:1068, blue:1093.3, black:null, smallW:292},
 {sw:681.7, tx:736.7, red:1291.7, small:1318.3, blue:1345, black:null, smallW:292}
];
const insetPos = [null,null,null,null,{sw:93.3, tx:141.7, line:1038.5, l1:1041, l2:1065},{sw:93.3, tx:141.7, line:1290, l1:1291.3, l2:1316.7}];

const panels = [
 {red:p1Red, blue:p1Blue, black:p1Black, marks:p1Marks, labels:p1Labels},
 {red:p2Red, blue:p2Blue, black:p2Black, marks:[], labels:[]},
 {red:p3Red, blue:p3Blue, black:p3Black, marks:p3Marks, labels:p3Labels},
 {red:p4Red, blue:p4Blue, black:p4Black, marks:[], labels:[]},
 {red:p5Red, blue:p5Blue, black:p5Black, marks:p5Marks, labels:p5Labels},
 {red:p6Red, blue:p6Blue, black:p6Black, marks:[], labels:[]}
];

Chart.defaults.font.family = '"Liberation Sans", Arial, Helvetica, sans-serif';

const framePlugin = {
  id: 'frame',
  afterDatasetsDraw(chart, args, opts) {
    const {ctx, chartArea: a} = chart;
    const xs = chart.scales.x, ys = chart.scales.y;
    ctx.save();
    ctx.strokeStyle = '#000';
    ctx.lineCap = 'butt';
    const seg = (x1,y1,x2,y2) => { ctx.beginPath(); ctx.moveTo(x1,y1); ctx.lineTo(x2,y2); ctx.stroke(); };
    ctx.lineWidth = 2.8;
    for (const m of opts.marks) {
      if (m.k === 'vl') {
        const px = xs.getPixelForValue(m.x);
        seg(px, ys.getPixelForValue(m.y1), px, ys.getPixelForValue(m.y2));
      } else {
        const x1 = xs.getPixelForValue(m.x1), x2 = xs.getPixelForValue(m.x2);
        const y = ys.getPixelForValue(m.y), ye = ys.getPixelForValue(m.ye);
        ctx.beginPath(); ctx.moveTo(x1, ye); ctx.lineTo(x1, y); ctx.lineTo(x2, y); ctx.lineTo(x2, ye); ctx.stroke();
      }
    }
    ctx.lineWidth = 2.4;
    for (let v = lambdaMin; v <= lambdaMax; v += 250) {
      const px = xs.getPixelForValue(v);
      const len = (v % 1000 === 0) ? 13 : 7;
      seg(px, a.top, px, a.top + len);
      seg(px, a.bottom, px, a.bottom - len);
    }
    for (let k = 1; k * 0.5 < ys.max - 0.05; k++) {
      const py = ys.getPixelForValue(k * 0.5);
      const len = (k % 2 === 0) ? 13 : 7;
      seg(a.left, py, a.left + len, py);
      seg(a.right, py, a.right - len, py);
    }
    ctx.lineWidth = 3;
    ctx.strokeRect(a.left, a.top, a.right - a.left, a.bottom - a.top);
    ctx.restore();
  }
};

function addText(html, x, yc, fs, target) {
  const d = document.createElement('div');
  d.className = 't';
  d.style.fontSize = fs + 'px';
  d.innerHTML = html;
  d.style.left = x + 'px';
  d.style.top = (yc - 0.49 * fs) + 'px';
  document.body.appendChild(d);
  if (target) {
    const w = d.getBoundingClientRect().width;
    d.style.transform = 'scaleX(' + (target / w) + ')';
  }
  return d;
}
function addSwatch(x, y, w, color) {
  const s = document.createElement('div');
  s.className = 'sw';
  s.style.left = x + 'px'; s.style.top = (y - 1.5) + 'px'; s.style.width = w + 'px'; s.style.background = color;
  document.body.appendChild(s);
}
function placeLabels(chart, canvasTop, labels) {
  const xs = chart.scales.x, ys = chart.scales.y;
  for (const l of labels) {
    const d = document.createElement('div');
    d.className = 'ann';
    d.innerHTML = l.lines.join('<br>');
    d.style.textAlign = l.align === 'end' ? 'right' : (l.align === 'center' ? 'center' : 'left');
    document.body.appendChild(d);
    const W = d.offsetWidth, H = d.offsetHeight;
    const px = xs.getPixelForValue(l.x), py = ys.getPixelForValue(l.y) + canvasTop;
    let top = py;
    if (l.align === 'end') top = py + W; else if (l.align === 'center') top = py + W / 2;
    d.style.left = (px - H / 2) + 'px';
    d.style.top = top + 'px';
    d.style.transform = 'rotate(-90deg)';
  }
}

panels.forEach((p, i) => {
  const top = layout.tops[i];
  const last = i === panels.length - 1;
  const bottom = last ? layout.bottom : layout.tops[i + 1];
  const cTop = top - 10;
  const cH = last ? (1597 - cTop) : (bottom - top + 20);
  const cv = document.createElement('canvas');
  cv.width = layout.canvasW; cv.height = cH;
  cv.style.top = cTop + 'px'; cv.style.width = layout.canvasW + 'px'; cv.style.height = cH + 'px';
  document.body.appendChild(cv);
  const xScale = {
    type: 'linear', min: lambdaMin, max: lambdaMax, display: last, position: 'bottom',
    grid: { display: false, drawTicks: false }, border: { display: false },
    afterBuildTicks: s => { s.ticks = lambdaTickValues.map(v => ({ value: v })); },
    ticks: { font: { size: 24 }, color: '#000', padding: 14, maxRotation: 0, autoSkip: false, callback: v => String(v) }
  };
  if (last) xScale.afterFit = s => { s.height = 1597 - layout.bottom; };
  const chart = new Chart(cv, {
    type: 'line',
    data: { datasets: [
      { data: p.black, borderColor: BLACK, borderWidth: 3 },
      { data: p.red, borderColor: RED, borderWidth: 3.3, cubicInterpolationMode: 'monotone' },
      { data: p.blue, borderColor: BLUE, borderWidth: 3.3, cubicInterpolationMode: 'monotone' }
    ]},
    options: {
      responsive: false, animation: false, devicePixelRatio: 1, events: [],
      elements: { point: { radius: 0 }, line: { tension: 0, borderJoinStyle: 'round', fill: false } },
      layout: { padding: { left: layout.left, right: layout.canvasW - layout.right, top: 10, bottom: last ? 0 : 10 } },
      plugins: { legend: { display: false }, tooltip: { enabled: false }, frame: { marks: p.marks } },
      scales: {
        x: xScale,
        y: { type: 'linear', min: 0, max: panelYMax[i], display: false }
      }
    },
    plugins: [framePlugin]
  });
  placeLabels(chart, cTop, p.labels);

  const L = legendPos[i];
  const swW = (i === 1) ? 39.7 : 40;
  addSwatch(L.sw, L.red, swW, RED);
  addText('09dc\u2013exp\u2013based model,', L.tx, L.red + 1.5, 24, 273);
  addText('t=' + modelTimes[i] + 'd, lg(L/L<sub>\u2299</sub>)=' + modelLgL[i] + ', v<sub>ph</sub>=' + modelVph[i] + 'km/s', L.tx, L.small, 15, L.smallW);
  addSwatch(L.sw, L.blue, swW, BLUE);
  addText('AWD3det\u2013based model', L.tx, L.blue + 1.5, 24, 267);
  if (L.black !== null) {
    addSwatch(L.sw, L.black, swW, BLACK);
    addText('SN 2009dc: ' + epochs[i], L.tx, L.black + 0.5, 24, i === 3 ? 217 : 202);
  }
  const ins = insetPos[i];
  if (ins) {
    addSwatch(ins.sw, ins.line, 38.4, BLACK);
    addText('09dc:', ins.tx, ins.l1, 24, null);
    addText(epochs[i], ins.tx, ins.l2, 24, null);
  }
});

(function () {
  const d = document.createElement('div');
  d.className = 't';
  d.style.fontSize = '24px';
  d.innerHTML = 'F<sub>\u03bb</sub> (arbitrary units)';
  document.body.appendChild(d);
  const W = d.offsetWidth, H = d.offsetHeight;
  d.style.left = (22.4 - W / 2) + 'px';
  d.style.top = (657.5 - H / 2) + 'px';
  d.style.transformOrigin = '50% 50%';
  d.style.transform = 'rotate(-90deg) scaleX(' + (209 / W) + ')';
  addText('\u03bb&nbsp;&nbsp;[&thinsp;\u00c5&nbsp;]', 525, 1580, 24, null);
})();
</script>
</body>
</html>
